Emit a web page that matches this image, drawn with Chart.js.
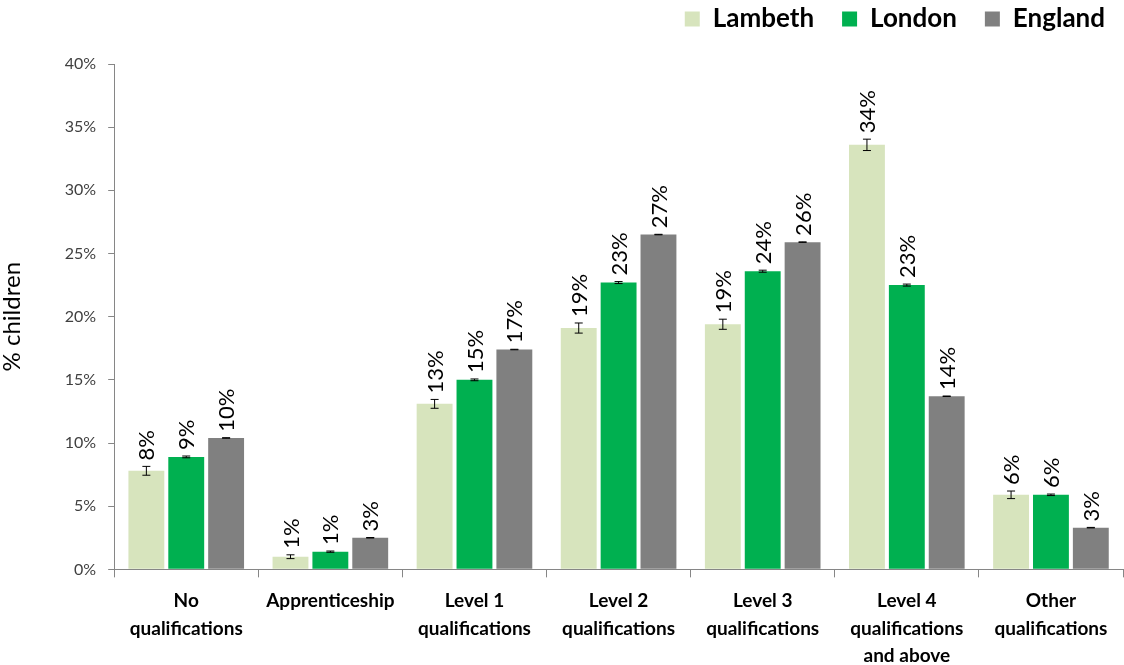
<!DOCTYPE html>
<html>
<head>
<meta charset="utf-8">
<script src="https://cdn.jsdelivr.net/npm/chart.js@4/dist/chart.umd.min.js"></script>
<style>
  html, body { margin: 0; padding: 0; background: #fff; }
  #wrap { width: 1124px; height: 665px; }
</style>
</head>
<body>
<div id="wrap"><canvas id="qualChart"></canvas></div>
<script>
const categories = [
    ['No', 'qualifications'],
    'Apprenticeship',
    ['Level 1', 'qualifications'],
    ['Level 2', 'qualifications'],
    ['Level 3', 'qualifications'],
    ['Level 4', 'qualifications', 'and above'],
    ['Other', 'qualifications']
];
const seriesNames = ['Lambeth', 'London', 'England'];
const lambeth = [7.8, 1.0, 13.1, 19.1, 19.4, 33.6, 5.9];
const london = [8.9, 1.4, 15.0, 22.7, 23.6, 22.5, 5.9];
const england = [10.4, 2.5, 17.4, 26.5, 25.9, 13.7, 3.3];
const lambethErr = [0.35, 0.15, 0.35, 0.4, 0.4, 0.45, 0.3];
const londonErr = [0.07, 0.05, 0.07, 0.08, 0.08, 0.08, 0.06];
const englandErr = [0.02, 0.02, 0.02, 0.02, 0.02, 0.02, 0.02];
const yTicks = [0, 5, 10, 15, 20, 25, 30, 35, 40];

const colours = ['#d7e4bd', '#00b050', '#808080'];
const errors = [lambethErr, londonErr, englandErr];
const fontFamily = 'Lato, "Open Sans", sans-serif';

// extra room under the legend, and nudge it to the right edge
const legendTweak = {
    id: 'legendTweak',
    beforeInit(chart) {
        const legend = chart.legend;
        const fit = legend.fit;
        legend.fit = function () {
            fit.call(this);
            this.height += 22;
        };
        const draw = legend.draw;
        legend.draw = function () {
            this.ctx.save();
            this.ctx.translate(10, 0);
            draw.call(this);
            this.ctx.restore();
        };
    }
};

const barExtras = {
    id: 'barExtras',
    afterDatasetsDraw(chart) {
        const ctx = chart.ctx;
        const y = chart.scales.y;
        chart.data.datasets.forEach((ds, di) => {
            const meta = chart.getDatasetMeta(di);
            meta.data.forEach((bar, i) => {
                const v = ds.data[i];
                const e = errors[di][i];
                const yTop = y.getPixelForValue(v + e);
                const yBot = y.getPixelForValue(v - e);
                // error bar
                ctx.save();
                ctx.strokeStyle = '#000';
                ctx.lineWidth = 1;
                ctx.beginPath();
                ctx.moveTo(bar.x, yTop);
                ctx.lineTo(bar.x, yBot);
                ctx.moveTo(bar.x - 4, yTop);
                ctx.lineTo(bar.x + 4, yTop);
                ctx.moveTo(bar.x - 4, yBot);
                ctx.lineTo(bar.x + 4, yBot);
                ctx.stroke();
                // value label
                ctx.translate(bar.x + 1, yTop - 6);
                ctx.rotate(-Math.PI / 2);
                ctx.fillStyle = '#000';
                ctx.font = '22px ' + fontFamily;
                ctx.textAlign = 'left';
                ctx.textBaseline = 'middle';
                ctx.fillText(Math.round(v) + '%', 0, 0);
                ctx.restore();
            });
        });
    }
};

const ctx = document.getElementById('qualChart').getContext('2d');
const qualChart = new Chart(ctx, {
    type: 'bar',
    data: {
        labels: categories,
        datasets: [
            { label: seriesNames[0], data: lambeth, backgroundColor: colours[0] },
            { label: seriesNames[1], data: london, backgroundColor: colours[1] },
            { label: seriesNames[2], data: england, backgroundColor: colours[2] }
        ]
    },
    options: {
        responsive: true,
        maintainAspectRatio: false,
        animation: false,
        layout: { padding: { top: -22, right: 1, bottom: -15, left: -2 } },
        datasets: {
            bar: { categoryPercentage: 0.83, barPercentage: 0.9 }
        },
        plugins: {
            legend: {
                display: true,
                position: 'top',
                align: 'end',
                labels: {
                    boxWidth: 15,
                    boxHeight: 15,
                    padding: 28,
                    color: '#000',
                    font: { family: fontFamily, size: 26, weight: 'bold' }
                }
            },
            tooltip: { enabled: false }
        },
        scales: {
            x: {
                grid: {
                    display: true,
                    drawOnChartArea: false,
                    drawTicks: true,
                    tickLength: 8,
                    color: '#868686',
                    offset: true
                },
                border: { color: '#868686' },
                ticks: {
                    color: '#000',
                    padding: 10,
                    maxRotation: 0,
                    autoSkip: false,
                    font: { family: fontFamily, size: 19, weight: 'bold', lineHeight: 1.45 }
                }
            },
            y: {
                min: 0,
                max: 40,
                afterBuildTicks(axis) {
                    axis.ticks = yTicks.map(v => ({ value: v }));
                },
                grid: {
                    display: true,
                    drawOnChartArea: false,
                    drawTicks: true,
                    tickLength: 6,
                    color: '#868686'
                },
                border: { color: '#868686' },
                ticks: {
                    color: '#404040',
                    padding: 12,
                    font: { family: fontFamily, size: 16 },
                    callback: v => v + '%'
                },
                title: {
                    display: true,
                    text: '% children',
                    color: '#000',
                    padding: { top: 0, bottom: 26 },
                    font: { family: fontFamily, size: 24 }
                }
            }
        }
    },
    plugins: [legendTweak, barExtras]
});
</script>
</body>
</html>
